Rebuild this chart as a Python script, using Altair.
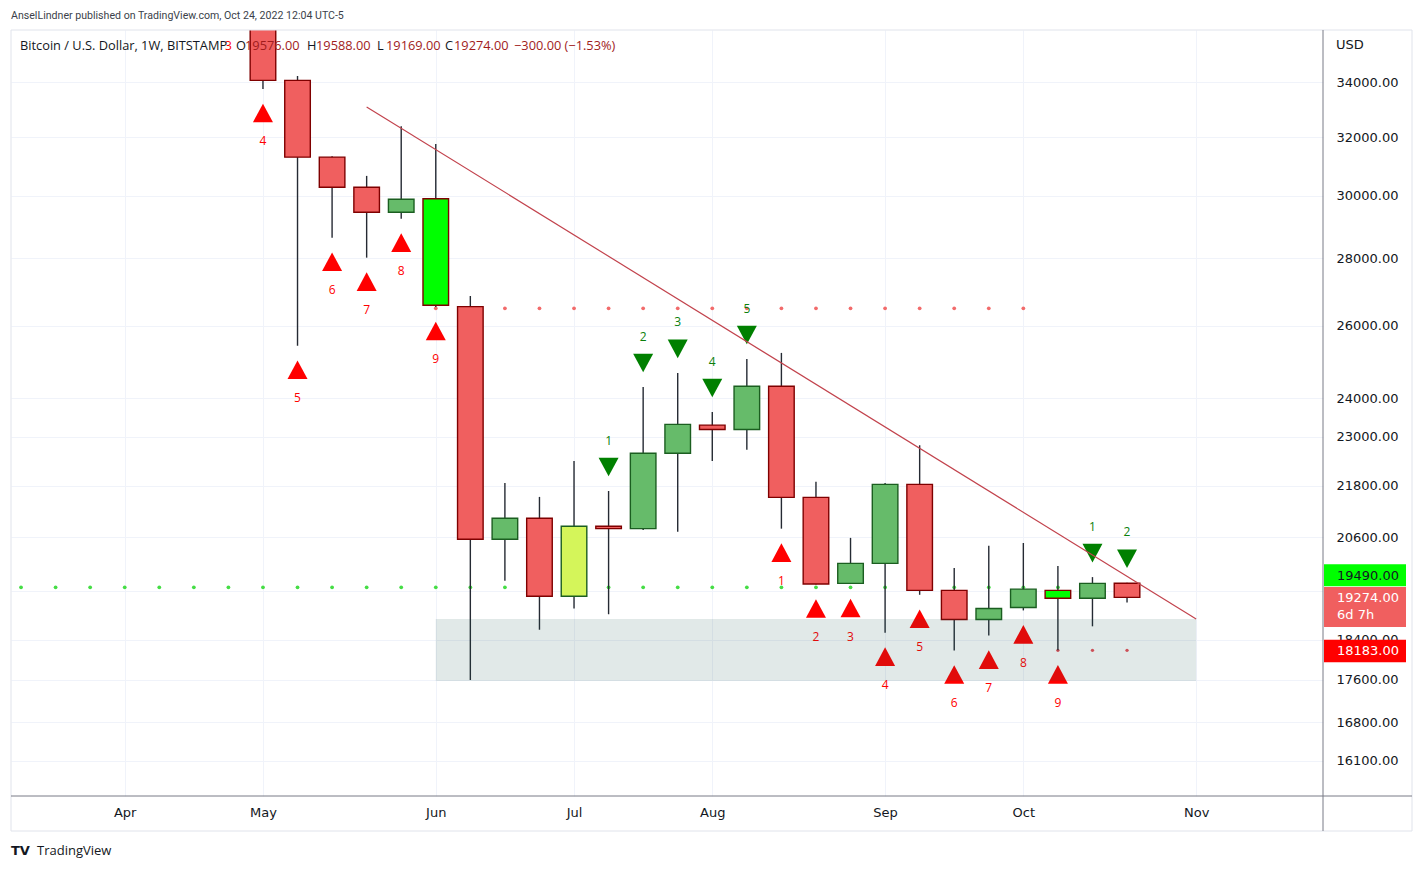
import altair as alt
import pandas as pd

# ---------------- data ----------------
week_start = ["2022-04-25", "2022-05-02", "2022-05-09", "2022-05-16", "2022-05-23",
              "2022-05-30", "2022-06-06", "2022-06-13", "2022-06-20", "2022-06-27",
              "2022-07-04", "2022-07-11", "2022-07-18", "2022-07-25", "2022-08-01",
              "2022-08-08", "2022-08-15", "2022-08-22", "2022-08-29", "2022-09-05",
              "2022-09-12", "2022-09-19", "2022-09-26", "2022-10-03", "2022-10-10",
              "2022-10-17", "2022-10-24"]
opens = [39450, 38470, 34060, 31300, 30280, 29455, 29900, 26550, 20550, 21030,
         19300, 20845, 20790, 22590, 23300, 23190, 24320, 21520, 19575, 20010,
         21830, 19425, 18810, 19060, 19425, 19255, 19576]
highs = [40800, 39900, 34225, 31330, 30660, 32380, 31760, 26860, 21860, 21530,
         22400, 21670, 24300, 24680, 23640, 25060, 25230, 21890, 20580, 21860,
         22790, 19910, 20400, 20465, 19950, 19710, 19588]
lows = [37500, 33740, 25430, 28640, 28020, 29250, 26540, 17600, 19630, 18600,
        19040, 18920, 20760, 20720, 22400, 22680, 20790, 19550, 19560, 18540,
        19330, 18180, 18480, 19000, 18183, 18670, 19169]
closes = [38470, 34060, 31300, 30280, 29455, 29880, 26590, 20550, 21030, 19300,
          20845, 20790, 22590, 23320, 23190, 24320, 21520, 19560, 20010, 21830,
          19425, 18810, 19040, 19450, 19255, 19575, 19274]
bar_kind = ["down", "down", "down", "down", "down", "up", "lime_down", "down", "up", "down",
            "yellow_up", "down", "up", "up", "down", "up", "down", "down", "up", "up",
            "down", "down", "up", "up", "lime_down", "up", "down"]

buy_count_weeks = ["2022-04-25", "2022-05-02", "2022-05-09", "2022-05-16", "2022-05-23",
                   "2022-05-30", "2022-06-06", "2022-08-15", "2022-08-22", "2022-08-29",
                   "2022-09-05", "2022-09-12", "2022-09-19", "2022-09-26", "2022-10-03",
                   "2022-10-10"]
buy_count_labels = ["3", "4", "5", "6", "7", "8", "9", "1", "2", "3", "4", "5", "6", "7", "8", "9"]
sell_count_weeks = ["2022-07-11", "2022-07-18", "2022-07-25", "2022-08-01", "2022-08-08",
                    "2022-10-17", "2022-10-24"]
sell_count_labels = ["1", "2", "3", "4", "5", "1", "2"]

support_level = 19490          # green dotted level
support_weeks = ("2022-03-14", "2022-10-10")
resist_level = 26500           # red dotted level
resist_weeks = ("2022-06-06", "2022-10-03")
low_level = 18183              # small red dots
low_weeks = ("2022-10-10", "2022-10-24")

trend_weeks = ["2022-05-23", "2022-11-07"]
trend_prices = [33080, 18820]
zone_weeks = ["2022-06-06", "2022-11-07"]
zone_prices = [17580, 18820]

month_weeks = ["2022-04-04", "2022-05-02", "2022-06-06", "2022-07-04", "2022-08-01",
               "2022-09-05", "2022-10-03", "2022-11-07"]
month_names = ["Apr", "May", "Jun", "Jul", "Aug", "Sep", "Oct", "Nov"]
price_ticks = [34000, 32000, 30000, 28000, 26000, 24000, 23000, 21800, 20600, 19400,
               18400, 17600, 16800, 16100]

last_price = 19274
header_title = "Bitcoin / U.S. Dollar, 1W, BITSTAMP"
header_ohlc = [("O", "19576.00"), ("H", "19588.00"), ("L", "19169.00"), ("C", "19274.00")]
header_change = "\u2212300.00 (\u22121.53%)"

# ---------------- helpers ----------------
ORIGIN = pd.Timestamp("2022-05-02")


def wk(d):
    return int((pd.Timestamp(d) - ORIGIN).days // 7)


W, H = 1312, 766
FONT_AX = "DejaVu Sans"
FONT_TX = "Open Sans"
DARK = "#131722"

month_idx = [wk(d) for d in month_weeks]
label_expr = " : ".join(f"datum.value == {i} ? '{n}'" for i, n in zip(month_idx, month_names)) + " : ''"

xscale = alt.Scale(domain=[-7.29, 30.67], nice=False, zero=False)
yscale = alt.Scale(type="log", domain=[15488, 36004], nice=False, zero=False)
xaxis = alt.Axis(values=month_idx, labelExpr=label_expr, title=None, ticks=False, domain=False,
                 grid=True, gridColor="#f0f3fa", labelFont=FONT_AX, labelFontSize=13,
                 labelColor=DARK, labelPadding=16, labelBaseline="middle", labelFlush=False)
yaxis = alt.Axis(orient="right", values=price_ticks, format=".2f", title=None, ticks=False,
                 domain=False, grid=True, gridColor="#f0f3fa", labelFont=FONT_AX,
                 labelFontSize=13, labelColor=DARK, labelPadding=13, labelOverlap=False,
                 labelAlign="left")


def X(f):
    return alt.X(f, type="quantitative", scale=xscale, axis=xaxis)


def Y(f):
    return alt.Y(f, type="quantitative", scale=yscale, axis=yaxis)


fill_map = {"down": "#f05f5f", "up": "#66bb6a", "lime_down": "#00ff00", "yellow_up": "#d4f55a"}
stroke_map = {"down": "#7f0000", "up": "#1b5e20", "lime_down": "#7f0000", "yellow_up": "#1b5e20"}

cdf = pd.DataFrame({"week": week_start, "open": opens, "high": highs, "low": lows,
                    "close": closes, "kind": bar_kind})
cdf["idx"] = [wk(d) for d in cdf["week"]]
cdf["lo"] = cdf["idx"] - 0.37
cdf["hi"] = cdf["idx"] + 0.37
cdf["fill"] = cdf["kind"].map(fill_map)
cdf["stroke"] = cdf["kind"].map(stroke_map)
by_week = cdf.set_index("week")

buy = pd.DataFrame({"week": buy_count_weeks, "label": buy_count_labels})
buy["idx"] = [wk(d) for d in buy["week"]]
buy["low"] = [by_week.loc[d, "low"] for d in buy["week"]]
sell = pd.DataFrame({"week": sell_count_weeks, "label": sell_count_labels})
sell["idx"] = [wk(d) for d in sell["week"]]
sell["high"] = [by_week.loc[d, "high"] for d in sell["week"]]


def dots(level, span):
    a, b = wk(span[0]), wk(span[1])
    return pd.DataFrame({"idx": list(range(a, b + 1)), "price": [level] * (b - a + 1)})


sup = dots(support_level, support_weeks)
res = dots(resist_level, resist_weeks)
lowd = dots(low_level, low_weeks)

trend = pd.DataFrame({"idx": [wk(d) for d in trend_weeks], "price": trend_prices})
zone = pd.DataFrame({"x": [wk(zone_weeks[0])], "x2": [wk(zone_weeks[1])],
                     "y": [zone_prices[0]], "y2": [zone_prices[1]]})

TRI_UP = "M-1,0.93L1,0.93L0,-0.93Z"
TRI_DN = "M-1,-0.93L1,-0.93L0,0.93Z"

# ---------------- layers ----------------
sup_l = alt.Chart(sup).mark_circle(size=14, color="#45dd45", opacity=1, clip=True).encode(
    x=X("idx"), y=Y("price"))
res_l = alt.Chart(res).mark_circle(size=14, color="#f26b6b", opacity=1, clip=True).encode(
    x=X("idx"), y=Y("price"))
low_l = alt.Chart(lowd).mark_circle(size=11, color="#e8505a", opacity=1, clip=True).encode(
    x=X("idx"), y=Y("price"))

wicks = alt.Chart(cdf).mark_rule(color="#252a33", strokeWidth=1.4, clip=True).encode(
    x=X("idx"), y=Y("low"), y2=alt.Y2("high"))
bodies = alt.Chart(cdf).mark_rect(strokeWidth=1.4, clip=True).encode(
    x=X("lo"), x2=alt.X2("hi"), y=Y("open"), y2=alt.Y2("close"),
    fill=alt.Fill("fill:N", scale=None), stroke=alt.Stroke("stroke:N", scale=None))

buy_tri = alt.Chart(buy).mark_point(shape=TRI_UP, size=400, filled=True, color="#ff0000",
                                    opacity=1, yOffset=24, clip=True).encode(x=X("idx"), y=Y("low"))
buy_txt = alt.Chart(buy).mark_text(font=FONT_TX, fontSize=12, color="#ff0000", dy=52.5,
                                   clip=True).encode(x=X("idx"), y=Y("low"), text="label:N")
sell_tri = alt.Chart(sell).mark_point(shape=TRI_DN, size=400, filled=True, color="#008000",
                                      opacity=1, yOffset=-24, clip=True).encode(x=X("idx"), y=Y("high"))
sell_txt = alt.Chart(sell).mark_text(font=FONT_TX, fontSize=12, color="#0b7f0b", dy=-50.5,
                                     clip=True).encode(x=X("idx"), y=Y("high"), text="label:N")

zone_l = alt.Chart(zone).mark_rect(color="#185650", opacity=0.13, clip=True).encode(
    x=X("x"), x2=alt.X2("x2"), y=Y("y"), y2=alt.Y2("y2"))
trend_l = alt.Chart(trend).mark_line(color="#c2434d", strokeWidth=1.2, clip=True).encode(
    x=X("idx"), y=Y("price"))

# ---------------- frame & annotations ----------------
one = pd.DataFrame({"a": [0]})
frame = alt.Chart(one).mark_rect(fill=None, stroke="#e0e3eb", strokeWidth=1).encode(
    x=alt.value(0), x2=alt.value(1401), y=alt.value(0), y2=alt.value(801))
vsep = alt.Chart(one).mark_rule(color="#787b86", strokeWidth=1).encode(
    x=alt.value(W), y=alt.value(0), y2=alt.value(801))
hsep = alt.Chart(one).mark_rule(color="#787b86", strokeWidth=1).encode(
    x=alt.value(0), x2=alt.value(1401), y=alt.value(H))

pub = alt.Chart(one).mark_text(text="AnselLindner published on TradingView.com, Oct 24, 2022 12:04 UTC-5",
                               font="Roboto", fontSize=10.6, color="#3b3f4a",
                               align="left").encode(x=alt.value(0), y=alt.value(-14))

hdr_rows = [{"t": header_title, "px": 9, "c": DARK}]
xs = [225, 296, 366, 434]
for (letter, val), px in zip(header_ohlc, xs):
    hdr_rows.append({"t": letter, "px": px, "c": DARK})
    hdr_rows.append({"t": val, "px": px + 9, "c": "#a11c1c"})
hdr_rows.append({"t": header_change, "px": 503, "c": "#a11c1c"})
hdr = alt.Chart(pd.DataFrame(hdr_rows)).mark_text(font=FONT_TX, fontSize=12.8, align="left").encode(
    x=alt.X("px:Q", scale=None), y=alt.value(16), text="t:N", color=alt.Color("c:N", scale=None))

usd = alt.Chart(one).mark_text(text="USD", font=FONT_AX, fontSize=13, color=DARK, align="left").encode(
    x=alt.value(1325), y=alt.value(15))

boxes = pd.DataFrame({"price": [support_level, last_price, low_level],
                      "top": [-23, -10.5, -10.7], "bot": [-1, 29.5, 11.8],
                      "fill": ["#00ff00", "#f05f5f", "#ff0000"]})
box_l = alt.layer(*[
    alt.Chart(boxes.iloc[[i]]).mark_rect(yOffset=float(boxes["top"][i]), y2Offset=float(boxes["bot"][i]),
                                         color=boxes["fill"][i]).encode(
        x=alt.value(1313), x2=alt.value(1395), y=Y("price"), y2=alt.Y2("price"))
    for i in range(3)])
box_txt = pd.DataFrame({"price": [support_level, last_price, last_price, low_level],
                        "t": ["19490.00", "19274.00", "6d 7h", "18183.00"],
                        "dy": [-11, 0.5, 18, 1],
                        "c": [DARK, "#ffffff", "#ffffff", "#ffffff"]})
box_t = alt.layer(*[
    alt.Chart(box_txt.iloc[[i]]).mark_text(font=FONT_AX, fontSize=13, align="left",
                                           dy=float(box_txt["dy"][i]), color=box_txt["c"][i]).encode(
        x=alt.value(1326), y=Y("price"), text="t:N")
    for i in range(4)])

logo = alt.Chart(one).mark_text(text="TV", font=FONT_AX, fontSize=13, fontWeight=900, color=DARK,
                                align="left").encode(x=alt.value(0), y=alt.value(821))
tv = alt.Chart(one).mark_text(text="TradingView", font=FONT_TX, fontSize=13, color=DARK,
                              align="left").encode(x=alt.value(26), y=alt.value(821))

chart = alt.layer(
    sup_l, res_l, low_l, wicks, bodies, buy_tri, sell_tri, buy_txt, sell_txt, zone_l, trend_l,
    frame, vsep, hsep, pub, hdr, usd, box_l, box_t, logo, tv
).properties(
    width=W, height=H, background="white",
    padding={"left": 11, "top": 30, "right": 100, "bottom": 74},
    autosize=alt.AutoSizeParams(type="none"),
).configure_view(stroke=None)

chart.save("out.html", embed_options={"renderer": "svg", "actions": False})
